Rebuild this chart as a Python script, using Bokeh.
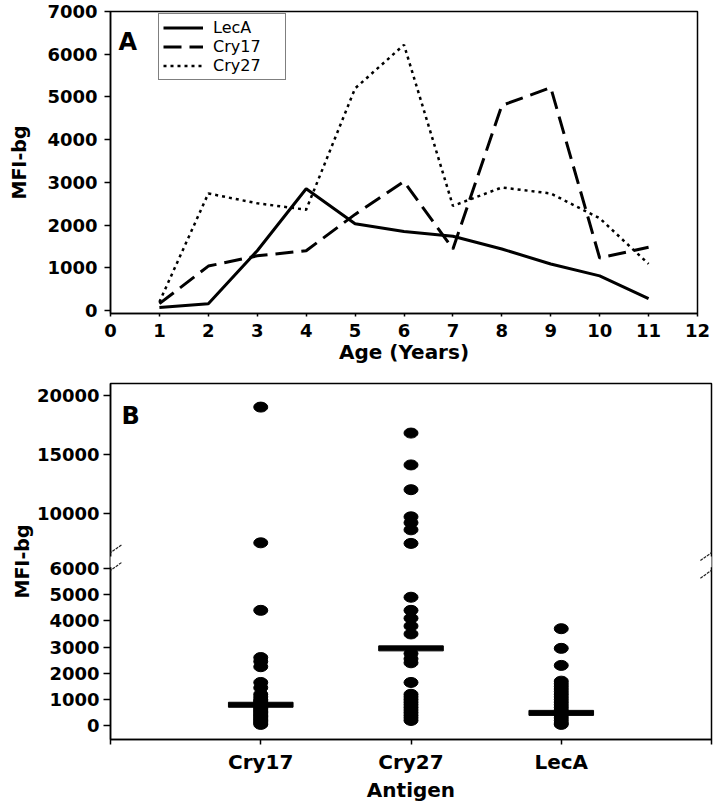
from bokeh.plotting import figure
from bokeh.models import Range1d, FixedTicker, Legend, LegendItem, Label, Arrow
from bokeh.layouts import column
from bokeh.embed import file_html
from bokeh.resources import INLINE

# ---------------- data: panel A ----------------
ages = [1, 2, 3, 4, 5, 6, 7, 8, 9, 10, 11]
leca = [70, 160, 1400, 2850, 2030, 1850, 1740, 1440, 1090, 810, 280]
cry17 = [160, 1040, 1280, 1400, 2250, 3020, 1440, 4800, 5220, 1230, 1480]
cry27 = [200, 2740, 2510, 2360, 5200, 6220, 2450, 2880, 2740, 2160, 1090]
age_ticks = [0, 1, 2, 3, 4, 5, 6, 7, 8, 9, 10, 11, 12]
mfi_ticks_a = [0, 1000, 2000, 3000, 4000, 5000, 6000, 7000]

# ---------------- data: panel B ----------------
antigens = ["Cry17", "Cry27", "LecA"]
cry17_pts = [19000, 7500, 4400, 2600, 2450, 2250, 1650, 1450, 1200, 1100, 1000,
             950, 900, 850, 800, 750, 700, 650, 600, 550, 500, 450, 400, 350,
             300, 250, 200, 150, 100, 50]
cry27_pts = [16800, 14100, 12000, 9700, 9200, 8600, 7450, 4900, 4400, 4100,
             3800, 3500, 2750, 2550, 2400, 1650, 1200, 1100, 1000, 900, 800,
             700, 600, 500, 400, 300, 200]
leca_pts = [3700, 2950, 2300, 1700, 1600, 1500, 1400, 1300, 1200, 1100, 1000,
            900, 800, 700, 600, 500, 400, 300, 200, 100, 50]
medians = [800, 2950, 490]
lower_ticks = [0, 1000, 2000, 3000, 4000, 5000, 6000]
upper_ticks = [10000, 15000, 20000]
break_value = 6000

FONT = "DejaVu Sans"


def style_axes(p):
    p.xgrid.visible = False
    p.ygrid.visible = False
    p.outline_line_color = "black"
    p.outline_line_width = 1.5
    p.background_fill_color = "white"
    p.border_fill_color = "white"
    for ax in p.axis:
        ax.axis_line_width = 1.5
        ax.axis_line_color = "black"
        ax.major_tick_line_width = 1.5
        ax.major_tick_line_color = "black"
        ax.minor_tick_line_color = None
        ax.major_tick_in = 0
        ax.major_label_text_font = FONT
        ax.major_label_text_font_style = "bold"
        ax.major_label_text_font_size = "18px"
        ax.major_label_text_color = "black"
        ax.axis_label_text_font = FONT
        ax.axis_label_text_font_style = "bold"
        ax.axis_label_text_color = "black"


# ---------------- panel A ----------------
pa = figure(frame_width=587, frame_height=302,
            min_border_left=110, min_border_right=23,
            min_border_top=11, min_border_bottom=57,
            x_range=Range1d(0, 12), y_range=Range1d(-70, 7000),
            output_backend="svg", toolbar_location=None)
style_axes(pa)
pa.xaxis.ticker = FixedTicker(ticks=age_ticks)
pa.xaxis.major_tick_out = 3
pa.xaxis.major_label_standoff = 7
pa.xaxis.axis_label = "Age (Years)"
pa.xaxis.axis_label_text_font_size = "20px"
pa.xaxis.axis_label_standoff = 0
pa.yaxis.ticker = FixedTicker(ticks=mfi_ticks_a)
pa.yaxis.major_tick_out = 6
pa.yaxis.major_label_standoff = 7
pa.yaxis.axis_label = "MFI-bg"
pa.yaxis.axis_label_text_font_size = "19px"
pa.yaxis.axis_label_standoff = 14

r1 = pa.line(ages, leca, line_color="black", line_width=3)
r2 = pa.line(ages, cry17, line_color="black", line_width=3, line_dash="18 8")
r3 = pa.line(ages, cry27, line_color="black", line_width=2.5, line_dash="3 4")

legend = Legend(items=[LegendItem(label="LecA", renderers=[r1]),
                       LegendItem(label="Cry17", renderers=[r2]),
                       LegendItem(label="Cry27", renderers=[r3])],
                location=(48, 233), orientation="vertical",
                padding=4, spacing=0, margin=0,
                glyph_width=40, glyph_height=17, label_height=17,
                label_width=68, label_standoff=10,
                label_text_font=FONT, label_text_font_size="16px",
                label_text_color="black",
                border_line_color="black", border_line_width=1.5,
                background_fill_color="white", background_fill_alpha=1)
pa.add_layout(legend)

pa.add_layout(Label(x=8, y=272, x_units="screen", y_units="screen", text="A",
                    text_font=FONT, text_font_style="bold", text_font_size="24px",
                    text_baseline="alphabetic", text_color="black"))

# ---------------- panel B ----------------
lo = Range1d(-525, 13050)
up = Range1d(-9167, 21000)
pb = figure(frame_width=601, frame_height=356,
            min_border_left=107, min_border_right=12,
            min_border_top=13, min_border_bottom=59,
            x_range=Range1d(0, len(antigens) + 1), y_range=lo,
            output_backend="svg", toolbar_location=None)
pb.extra_y_ranges = {"upper": up}
style_axes(pb)


def to_lower(v):
    return lo.start + (v - up.start) * (lo.end - lo.start) / (up.end - up.start)


upper_pos = [int(round(to_lower(v))) for v in upper_ticks]
pb.yaxis.ticker = FixedTicker(ticks=lower_ticks + upper_pos)
pb.yaxis.major_label_overrides = {p: str(v) for p, v in zip(upper_pos, upper_ticks)}
pb.yaxis.major_tick_out = 7
pb.yaxis.major_label_standoff = 4
pb.yaxis.axis_label = "MFI-bg"
pb.yaxis.axis_label_text_font_size = "19px"
pb.yaxis.axis_label_standoff = 1

xpos = {name: i + 1 for i, name in enumerate(antigens)}
xt = [0] + [xpos[a] for a in antigens] + [len(antigens) + 1]
pb.xaxis.ticker = FixedTicker(ticks=xt)
overrides = {0: "", len(antigens) + 1: ""}
overrides.update({xpos[a]: a for a in antigens})
pb.xaxis.major_label_overrides = overrides
pb.xaxis.major_tick_out = 5
pb.xaxis.major_label_standoff = 5
pb.xaxis.major_label_text_font_size = "20px"
pb.xaxis.axis_label = "Antigen"
pb.xaxis.axis_label_text_font_size = "20px"
pb.xaxis.axis_label_standoff = 1

for name, vals in zip(antigens, [cry17_pts, cry27_pts, leca_pts]):
    low = [v for v in vals if v <= break_value]
    high = [v for v in vals if v > break_value]
    pb.ellipse(x=[xpos[name]] * len(low), y=low, width=14, height=10,
               width_units="screen", height_units="screen",
               fill_color="black", line_color="black")
    pb.ellipse(x=[xpos[name]] * len(high), y=high, width=14, height=10,
               width_units="screen", height_units="screen",
               fill_color="black", line_color="black", y_range_name="upper")

pb.rect(x=[xpos[a] for a in antigens], y=medians, width=0.43, height=5,
        height_units="screen", fill_color="black", line_color="black")

# axis break: white cover over the frame edges, then the two diagonal marks
gap_lo, gap_hi = break_value + 40, break_value + 450
for xe in [0, len(antigens) + 1]:
    pb.add_layout(Arrow(x_start=xe, y_start=gap_lo, x_end=xe, y_end=gap_hi,
                        start=None, end=None, line_color="white", line_width=5))
    for yc in [break_value + 600, break_value - 75]:
        pb.add_layout(Arrow(x_start=xe - 0.074, y_start=yc - 300,
                            x_end=xe + 0.074, y_end=yc + 300,
                            start=None, end=None, line_color="#222222",
                            line_width=1.2, line_dash="3 1"))

pb.add_layout(Label(x=11, y=324, x_units="screen", y_units="screen", text="B",
                    text_font=FONT, text_font_style="bold", text_font_size="24px",
                    text_baseline="alphabetic", text_color="black"))

layout = column(pa, pb)
open("out.html", "w").write(file_html(layout, INLINE))
